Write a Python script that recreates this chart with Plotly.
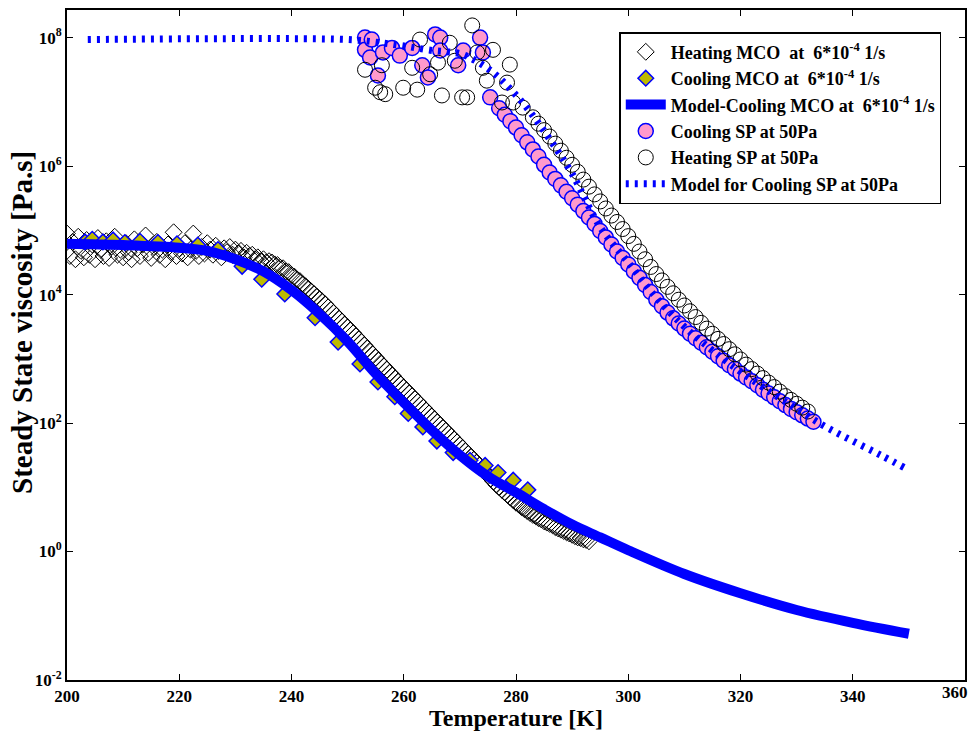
import numpy as np
import plotly.graph_objects as go

# ---------------- data (viscosity given as log10 of Pa.s) ----------------
heat_mco_T = [
    200.0, 200.5, 201.0, 201.5, 202.0, 202.5, 203.0, 203.5, 204.0, 204.5, 205.0, 205.5, 206.0, 206.5,
    207.0, 207.5, 208.0, 208.5, 209.0, 209.5, 210.0, 210.5, 211.0, 211.5, 212.0, 212.5, 213.0, 213.5,
    214.0, 214.5, 215.0, 215.5, 216.0, 216.5, 217.0, 217.5, 218.0, 218.5, 219.0, 219.5, 220.0, 220.5,
    221.0, 221.5, 222.0, 222.5, 223.0, 223.5, 224.0, 224.5, 225.0, 225.5, 226.0, 226.5, 227.0, 227.5,
    228.0, 228.5, 229.0, 229.5, 230.0, 230.5, 231.0, 231.5, 232.0, 232.5, 233.0, 233.5, 234.0, 234.5,
    235.0, 235.5,
    236.0, 236.5, 237.0, 237.5, 238.0, 238.5, 239.0, 239.5, 240.0, 240.5, 241.0, 241.5, 242.0, 242.5,
    243.0, 243.5, 244.0, 244.5, 245.0, 245.5, 246.0, 246.5, 247.0, 247.5, 248.0, 248.5, 249.0, 249.5,
    250.0, 250.5, 251.0, 251.5, 252.0, 252.5, 253.0, 253.5, 254.0, 254.5, 255.0, 255.5, 256.0, 256.5,
    257.0, 257.5, 258.0, 258.5, 259.0, 259.5, 260.0, 260.5, 261.0, 261.5, 262.0, 262.5, 263.0, 263.5,
    264.0, 264.5, 265.0, 265.5, 266.0, 266.5, 267.0, 267.5, 268.0, 268.5, 269.0, 269.5, 270.0, 270.5,
    271.0, 271.5, 272.0, 272.5, 273.0, 273.5, 274.0, 274.5, 275.0, 275.5, 276.0, 276.5, 277.0, 277.5,
    278.0, 278.5, 279.0, 279.5, 280.0, 280.5, 281.0, 281.5, 282.0, 282.5, 283.0, 283.5, 284.0, 284.5,
    285.0, 285.5, 286.0, 286.5, 287.0, 287.5, 288.0, 288.5, 289.0, 289.5, 290.0, 290.5, 291.0, 291.5,
    292.0, 292.5, 293.0,
]
heat_mco_log = [
    4.95, 4.60, 4.82, 4.55, 4.90, 4.68, 4.58, 4.85, 4.62, 4.78, 4.55, 4.88, 4.70, 4.60,
    4.83, 4.57, 4.75, 4.90, 4.62, 4.70, 4.58, 4.80, 4.66, 4.55, 4.86, 4.72, 4.60, 4.78,
    4.92, 4.65, 4.57, 4.74, 4.82, 4.62, 4.70, 4.55, 4.78, 4.66, 4.97, 4.60, 4.72, 4.64,
    4.80, 4.58, 4.70, 4.95, 4.68, 4.60, 4.74, 4.64, 4.80, 4.70, 4.62, 4.76, 4.68, 4.58,
    4.72, 4.66, 4.74, 4.62, 4.70, 4.64, 4.68, 4.58, 4.65, 4.60, 4.62, 4.55, 4.58, 4.52,
    4.55, 4.50,
    4.52, 4.50, 4.47, 4.46, 4.42, 4.41, 4.36, 4.35, 4.30, 4.28, 4.23, 4.21, 4.16, 4.13,
    4.09, 4.05, 4.01, 3.97, 3.93, 3.89, 3.85, 3.80, 3.76, 3.71, 3.67, 3.62, 3.58, 3.53,
    3.49, 3.44, 3.40, 3.35, 3.30, 3.26, 3.21, 3.16, 3.11, 3.07, 3.02, 2.97, 2.92, 2.88,
    2.83, 2.78, 2.74, 2.69, 2.64, 2.60, 2.55, 2.51, 2.46, 2.42, 2.37, 2.33, 2.28, 2.24,
    2.19, 2.15, 2.10, 2.06, 2.01, 1.97, 1.92, 1.88, 1.83, 1.79, 1.74, 1.70, 1.65, 1.61,
    1.56, 1.52, 1.47, 1.43, 1.38, 1.34, 1.29, 1.24, 1.19, 1.14, 1.09, 1.04, 1.00, 0.96,
    0.92, 0.88, 0.84, 0.80, 0.76, 0.73, 0.69, 0.66, 0.63, 0.60, 0.57, 0.55, 0.52, 0.50,
    0.47, 0.45, 0.43, 0.41, 0.38, 0.36, 0.34, 0.32, 0.30, 0.28, 0.26, 0.24, 0.22, 0.21,
    0.19, 0.18, 0.16,
]

cool_mco_T = [203.2, 204.5, 206.4, 208.2, 210.3, 213.0, 216.2, 219.6, 223.3, 226.9, 231.2, 234.7,
              238.8, 244.2, 248.3, 252.2, 255.4, 258.4, 260.8, 263.4, 265.9, 268.8, 271.8, 274.5,
              276.8, 279.5, 282.1]
cool_mco_log = [4.82, 4.86, 4.82, 4.85, 4.81, 4.83, 4.81, 4.79, 4.77, 4.70, 4.44, 4.24,
                4.01, 3.64, 3.26, 2.92, 2.64, 2.41, 2.15, 1.94, 1.72, 1.54, 1.42, 1.34,
                1.23, 1.11, 0.96]

model_mco_T = [200, 210, 220, 225, 230, 235, 240, 245, 250, 255, 260, 265, 270, 275, 280,
               285, 290, 295, 300, 310, 320, 330, 340, 350]
model_mco_log = [4.79, 4.77, 4.73, 4.68, 4.55, 4.36, 4.07, 3.70, 3.27, 2.77, 2.32, 1.89, 1.50,
                 1.17, 0.92, 0.66, 0.42, 0.22, 0.02, -0.35, -0.65, -0.91, -1.11, -1.28]

cool_sp_T = [253.1, 253.1, 254.0, 254.3, 255.4, 256.3, 257.9, 259.3, 261.5, 263.3, 264.3, 265.6,
             266.5, 266.5, 269.7, 270.6, 273.6, 274.1, 275.4, 277.0,
             278, 279, 280, 281, 282, 283, 284, 285, 286, 287, 288, 289, 290, 291, 292, 293,
             294, 295, 296, 297, 298, 299, 300, 301, 302, 303, 304, 305, 306, 307, 308, 309,
             310, 311, 312, 313, 314, 315, 316, 317, 318, 319, 320, 321, 322, 323, 324, 325,
             326, 327, 328, 329, 330, 331, 332, 333]
cool_sp_log = [8.00, 7.81, 7.69, 7.97, 7.41, 7.77, 7.84, 7.72, 7.84, 7.57, 7.38, 8.05,
               8.00, 7.80, 7.57, 7.80, 8.00, 7.77, 7.07, 6.90,
               6.80, 6.70, 6.60, 6.48, 6.37, 6.26, 6.15, 6.02, 5.90, 5.80, 5.70, 5.60, 5.50,
               5.40, 5.30, 5.20, 5.10, 4.99, 4.89, 4.78, 4.67, 4.57, 4.47, 4.36, 4.26, 4.15,
               4.04, 3.92, 3.82, 3.72, 3.63, 3.55, 3.47, 3.39, 3.32, 3.25, 3.18, 3.11, 3.04,
               2.97, 2.90, 2.84, 2.77, 2.71, 2.65, 2.59, 2.52, 2.46, 2.40, 2.34, 2.28, 2.22,
               2.17, 2.12, 2.07, 2.02]

heat_sp_T = [253.1, 254.9, 255.8, 256.1, 256.7, 259.9, 261.5, 262.4, 262.9, 264.7, 266.1, 266.8,
             268.2, 269.1, 270.4, 271.3, 272.2, 273.1, 274.1, 274.8, 275.9, 277.5, 278.4, 278.9,
             279.5, 281.2, 283.0,
             284, 285, 286, 287, 288, 289, 290, 291, 292, 293, 294, 295, 296, 297, 298, 299,
             300, 301, 302, 303, 304, 305, 306, 307, 308, 309, 310, 311, 312, 313, 314, 315,
             316, 317, 318, 319, 320, 321, 322, 323, 324, 325, 326, 327, 328, 329, 330, 331, 332]
heat_sp_log = [7.50, 7.22, 7.15, 7.57, 7.12, 7.22, 7.53, 7.19, 7.97, 7.43, 7.61, 7.10,
               7.92, 7.64, 7.07, 7.07, 8.19, 7.77, 7.53, 7.33, 7.81, 6.99, 7.30, 7.58,
               6.99, 6.91, 6.76,
               6.66, 6.56, 6.46, 6.35, 6.24, 6.13, 6.02, 5.91, 5.79, 5.68, 5.56, 5.45, 5.34,
               5.23, 5.13, 5.02, 4.91, 4.79, 4.67, 4.55, 4.43, 4.32, 4.22, 4.12, 4.02, 3.92,
               3.83, 3.74, 3.65, 3.56, 3.47, 3.39, 3.31, 3.23, 3.15, 3.07, 2.99, 2.91, 2.84,
               2.77, 2.70, 2.63, 2.56, 2.49, 2.42, 2.36, 2.30, 2.24, 2.18]

model_sp_T = [203.7, 250, 255, 260, 265, 270, 273, 276, 279, 282, 286, 290, 295, 300, 305,
              310, 315, 320, 325, 330, 335, 340, 345, 349.3]
model_sp_log = [7.97, 7.97, 7.93, 7.87, 7.80, 7.75, 7.63, 7.45, 7.20, 6.90, 6.42, 5.88, 5.05,
                4.50, 3.95, 3.50, 3.13, 2.80, 2.50, 2.22, 1.95, 1.72, 1.50, 1.30]

x_ticks = [200, 220, 240, 260, 280, 300, 320, 340, 360]
# the last label (360) sits at the very edge, so it is written as a separate annotation
x_tick_labels = ["200", "220", "240", "260", "280", "300", "320", "340", ""]
last_x_label = "360"
y_exponents = [-2, 0, 2, 4, 6, 8]

# ---------------- figure ----------------
NB = "\u00a0"
BLUE = "#0000FF"
SERIF = "Liberation Serif"


def pw(v):
    return np.power(10.0, np.array(v, dtype=float))


fig = go.Figure()
fig.add_trace(go.Scatter(
    x=heat_mco_T, y=pw(heat_mco_log), mode="markers",
    name=f"Heating MCO{NB} at{NB} 6*10<sup>-4</sup> 1/s",
    marker=dict(symbol="diamond-open", size=13, color="black", line=dict(width=1))))
fig.add_trace(go.Scatter(
    x=cool_mco_T, y=pw(cool_mco_log), mode="markers",
    name=f"Cooling MCO at{NB} 6*10<sup>-4</sup> 1/s",
    marker=dict(symbol="diamond", size=12, color="#BDBA00", line=dict(width=1.5, color=BLUE))))
fig.add_trace(go.Scatter(
    x=model_mco_T, y=pw(model_mco_log), mode="lines", line_shape="spline",
    name=f"Model-Cooling MCO at{NB} 6*10<sup>-4</sup> 1/s",
    line=dict(color=BLUE, width=10)))
fig.add_trace(go.Scatter(
    x=cool_sp_T, y=pw(cool_sp_log), mode="markers",
    name="Cooling SP at 50Pa",
    marker=dict(symbol="circle", size=15, color="#FF99CC", line=dict(width=1.5, color=BLUE))))
fig.add_trace(go.Scatter(
    x=heat_sp_T, y=pw(heat_sp_log), mode="markers",
    name="Heating SP at 50Pa",
    marker=dict(symbol="circle-open", size=15, color="black", line=dict(width=1))))
fig.add_trace(go.Scatter(
    x=model_sp_T, y=pw(model_sp_log), mode="lines", line_shape="spline",
    name="Model for Cooling SP at 50Pa",
    line=dict(color=BLUE, width=7, dash="3px,6px")))

axis_common = dict(showline=True, linecolor="black", linewidth=2, mirror="ticks",
                   ticks="inside", ticklen=6, tickwidth=1, tickcolor="black",
                   showgrid=False, zeroline=False)

fig.update_xaxes(range=[200, 360], tickvals=x_ticks, ticktext=x_tick_labels,
                 tickfont=dict(family=SERIF, size=17, weight="bold", color="black"),
                 title=dict(text="Temperature [K]", standoff=2,
                            font=dict(family=SERIF, size=24, weight="bold", color="black")),
                 **axis_common)
fig.update_yaxes(type="log", range=[-2, 8.43],
                 tickvals=[10.0 ** e for e in y_exponents],
                 ticktext=[f"10<sup>{e}</sup>" for e in y_exponents],
                 tickfont=dict(family=SERIF, size=17, weight="bold", color="black"),
                 **axis_common)

# y-axis title as a rotated annotation (placed slightly above plot centre, as in the original)
fig.add_annotation(text="Steady State viscosity [Pa.s]", textangle=-90,
                   xref="paper", yref="paper", x=-0.05, y=0.533,
                   xanchor="center", yanchor="middle", showarrow=False,
                   font=dict(family=SERIF, size=29, weight="bold", color="black"))
# last x tick label, pulled inside the page edge
fig.add_annotation(text=last_x_label, xref="paper", yref="paper", x=1, y=0,
                   xanchor="right", yanchor="top", xshift=5, yshift=-1, showarrow=False,
                   font=dict(family=SERIF, size=17, weight="bold", color="black"))

# The page body has an 8px default margin, so the figure is sized / offset to compensate.
fig.update_layout(
    width=969, height=723,
    margin=dict(l=59, r=12, t=0, b=51),
    plot_bgcolor="white", paper_bgcolor="white",
    font=dict(family=SERIF, color="black"),
    legend=dict(x=0.615, y=0.967, xanchor="left", yanchor="top",
                bordercolor="black", borderwidth=1.5, bgcolor="white",
                font=dict(family=SERIF, size=18, weight="bold", color="black"),
                itemwidth=40, tracegroupgap=0),
    showlegend=True,
)

fig.write_html("out.html")
